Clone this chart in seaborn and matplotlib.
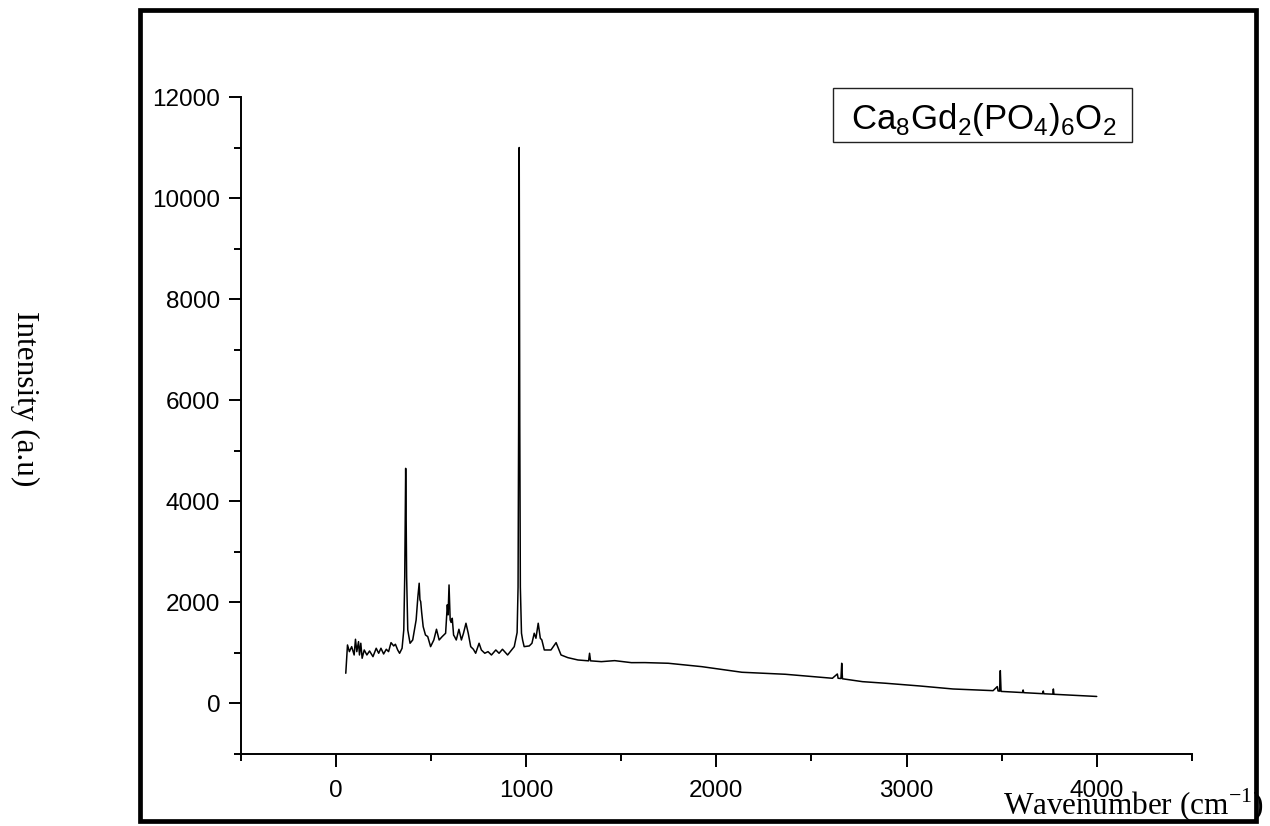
import matplotlib
matplotlib.use("Agg")
import matplotlib.pyplot as plt
from matplotlib.patches import Rectangle
from matplotlib.ticker import MultipleLocator
import seaborn as sns

# Raman spectrum (cm-1, a.u.)
wavenumber = [51, 60, 70, 82, 95, 102, 109, 118, 123, 130, 137, 148, 162, 176, 194,
              211, 224, 236, 250, 264, 276, 289, 303, 312, 324, 334, 347,
              356, 361, 364, 366, 368, 371, 377, 389, 403, 421, 430, 437, 441, 445,
              450, 458, 470, 482, 497, 514, 528, 542, 558, 576, 585, 589, 594, 600,
              605, 611, 618, 623, 632, 646, 659, 670, 683, 695, 708, 722, 734, 752,
              764, 782, 799, 817, 840, 857, 875, 902, 937, 952, 957, 960, 963, 966,
              969, 975, 981, 989, 1016, 1030, 1042, 1051, 1063, 1074, 1082, 1095,
              1130, 1157, 1183, 1219, 1272, 1328, 1333, 1338, 1395, 1465, 1553,
              1624, 1747, 1923, 2134, 2363, 2610, 2636, 2640, 2655, 2659, 2663,
              2768, 2891, 3068, 3244, 3455, 3477, 3481, 3489, 3493, 3497, 3610,
              3613, 3616, 3716, 3719, 3722, 3769, 3772, 3775, 4000]
intensity = [594, 1154, 1022, 1121, 956, 1267, 1022, 1220, 956, 1188, 891, 1055, 956, 1035, 923,
             1089, 990, 1089, 976, 1069, 1022, 1200, 1135, 1168, 1055, 990, 1089,
             1451, 2500, 3900, 4650, 3900, 2500, 1451, 1188, 1253, 1650, 2100, 2376, 2050, 2012,
             1800, 1517, 1352, 1320, 1121, 1253, 1465, 1253, 1320, 1386, 1950, 1750, 2342, 1650,
             1600, 1683, 1350, 1320, 1253, 1465, 1253, 1386, 1584, 1386, 1121, 1069, 990, 1188,
             1055, 990, 1022, 956, 1055, 990, 1069, 956, 1121, 1400, 2300, 5500, 11000, 5500,
             2300, 1386, 1250, 1121, 1135, 1188, 1386, 1287, 1584, 1287, 1254, 1055,
             1055, 1200, 956, 903, 857, 840, 990, 840, 824, 844, 804,
             805, 792, 725, 614, 574, 495, 580, 495, 490, 792, 485,
             428, 396, 343, 283, 250, 330, 245, 240, 646, 235, 212,
             263, 210, 190, 243, 188, 180, 283, 178, 135]

x_major = [0, 1000, 2000, 3000, 4000]
y_major = [0, 2000, 4000, 6000, 8000, 10000, 12000]

sample_label = r"Ca$_8$Gd$_2$(PO$_4$)$_6$O$_2$"
x_title = r"Wavenumber (cm$^{\mathsf{-1}}$)"
y_title = "Intensity (a.u)"

sns.set_style("ticks")
plt.rcParams["font.family"] = ["Liberation Sans", "DejaVu Sans"]
plt.rcParams["mathtext.fontset"] = "custom"
plt.rcParams["mathtext.rm"] = "Liberation Sans"
plt.rcParams["mathtext.sf"] = "Liberation Serif"
plt.rcParams["text.color"] = "black"
plt.rcParams["xtick.color"] = "black"
plt.rcParams["ytick.color"] = "black"
plt.rcParams["axes.edgecolor"] = "black"

W, H = 1270, 826
fig = plt.figure(figsize=(W / 100, H / 100), dpi=100)
ax = fig.add_axes([241 / W, 1 - 753.8 / H, (1191.8 - 241) / W, (753.8 - 97) / H])
ax.patch.set_alpha(0)

sns.lineplot(x=wavenumber, y=intensity, ax=ax, color="black", lw=1.1,
             sort=False, estimator=None)

ax.set_xlim(-500, 4500)
ax.set_ylim(-1000, 12000)
ax.set_xticks(x_major)
ax.set_yticks(y_major)
ax.xaxis.set_minor_locator(MultipleLocator(500))
ax.yaxis.set_minor_locator(MultipleLocator(1000))
for side in ["top", "right"]:
    ax.spines[side].set_visible(False)
for side in ["left", "bottom"]:
    ax.spines[side].set_linewidth(1.4)
ax.tick_params(which="major", length=9, width=1.4, labelsize=17.5, color="black",
               labelcolor="black")
ax.tick_params(which="minor", length=5, width=1.4, color="black")
ax.tick_params(axis="y", which="major", pad=6)
ax.tick_params(axis="x", which="major", pad=10)
ax.set_xlabel("")
ax.set_ylabel("")

# outer frame round the plot area
fig.patches.append(Rectangle((139.5 / W, 1 - 820.5 / H), (1255.5 - 139.5) / W, (820.5 - 10) / H,
                             transform=fig.transFigure, fill=False, lw=3.4, ec="black", zorder=5))

# sample label box
fig.patches.append(Rectangle((833 / W, 1 - 142 / H), 299 / W, 54 / H,
                             transform=fig.transFigure, fill=True, fc="white", lw=1.0,
                             ec="#222222", zorder=3))
fig.text(984 / W, 1 - 129.3 / H, sample_label, ha="center", va="baseline",
         fontsize=25, color="black", zorder=4)

fig.text(1003 / W, 1 - 815 / H, x_title, ha="left", va="baseline",
         fontsize=22.5, color="black", family=["Liberation Serif", "DejaVu Serif"], zorder=6)
fig.text(25 / W, 1 - 399 / H, y_title, ha="center", va="center", rotation=270,
         fontsize=22.5, color="black", family=["Liberation Serif", "DejaVu Serif"])

fig.savefig("out.png", dpi=100, facecolor="white")
